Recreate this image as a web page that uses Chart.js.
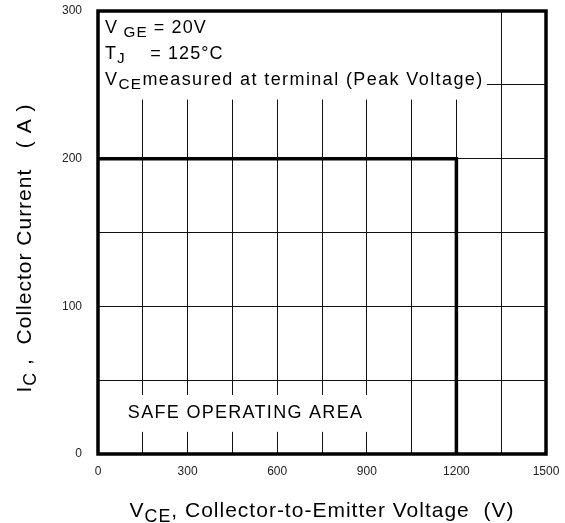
<!DOCTYPE html>
<html><head><meta charset="utf-8">
<script src="https://cdn.jsdelivr.net/npm/chart.js@4.4.1/dist/chart.umd.min.js"></script>
<style>html,body{margin:0;padding:0;background:#fff}#wrap{width:565px;height:523px;position:relative}</style>
</head><body><div id="wrap"><canvas id="c" width="565" height="523"></canvas></div>
<script>
// ---- data ----
const vceVolts = [0, 1200, 1200];
const icAmps = [200, 200, 0];
const xTickLabels = [0, 300, 600, 900, 1200, 1500];
const yTickLabels = [0, 100, 200, 300];
const xRange = [0, 1500];
const yRange = [0, 300];
const xGridStep = 150;
const yGridStep = 50;
const conditionLines = [
  [["V", 0], [" GE", 1], [" = 20V", 0]],
  [["T", 0], ["J", 1], ["    = 125°C", 0]],
  [["V", 0], ["CE", 1], ["measured at terminal (Peak Voltage)", 0]]
];
const areaLabel = "SAFE OPERATING AREA";
const xTitle = [["V", 0], ["CE", 1], [", Collector-to-Emitter Voltage  (V)", 0]];
const yTitle = [["I", 0], ["C", 1], [" ,  Collector Current   ( A )", 0]];

const FONT = '"Liberation Sans", Arial, sans-serif';
const lineSpacingPx = [1.1, 1.1, 1.4];

function richWidth(ctx, parts, size, sp) {
  let w = 0;
  for (const [t, sub] of parts) {
    ctx.font = (sub ? size * 0.85 : size) + 'px ' + FONT;
    ctx.letterSpacing = sp + 'px';
    w += ctx.measureText(t).width;
  }
  return w;
}
function drawRich(ctx, parts, x, y, size, sp) {
  ctx.textBaseline = 'alphabetic';
  ctx.textAlign = 'left';
  for (const [t, sub] of parts) {
    ctx.font = (sub ? size * 0.85 : size) + 'px ' + FONT;
    ctx.letterSpacing = sp + 'px';
    ctx.fillText(t, x, y + (sub ? size * 0.22 : 0));
    x += ctx.measureText(t).width;
  }
  ctx.letterSpacing = '0px';
}

const decor = {
  id: 'decor',
  beforeDatasetsDraw(chart) {
    const ctx = chart.ctx, xs = chart.scales.x, ys = chart.scales.y;
    ctx.save();
    ctx.fillStyle = '#fff';
    const bx0 = xs.getPixelForValue(0), bx1 = xs.getPixelForValue(1302);
    const by0 = ys.getPixelForValue(300), by1 = ys.getPixelForValue(240);
    ctx.fillRect(bx0, by0, bx1 - bx0, by1 - by0);
    const sx0 = xs.getPixelForValue(75), sx1 = xs.getPixelForValue(930);
    const sy0 = ys.getPixelForValue(40), sy1 = ys.getPixelForValue(15);
    ctx.fillRect(sx0, sy0, sx1 - sx0, sy1 - sy0);
    ctx.restore();
  },
  afterDatasetsDraw(chart) {
    const ctx = chart.ctx, a = chart.chartArea, xs = chart.scales.x, ys = chart.scales.y;
    ctx.save();
    ctx.strokeStyle = '#000';
    ctx.lineWidth = 3.5;
    ctx.strokeRect(a.left, a.top, a.right - a.left, a.bottom - a.top);
    ctx.fillStyle = '#000';
    const lx = a.left + 7;
    conditionLines.forEach((ln, i) => drawRich(ctx, ln, lx, a.top + 22 + i * 26, 18, lineSpacingPx[i]));
    ctx.font = '18px ' + FONT;
    ctx.letterSpacing = '1.3px';
    ctx.textAlign = 'left';
    ctx.textBaseline = 'alphabetic';
    ctx.fillText(areaLabel, xs.getPixelForValue(100), ys.getPixelForValue(24.5));
    ctx.letterSpacing = '0px';
    const xw = richWidth(ctx, xTitle, 21, 1.0);
    drawRich(ctx, xTitle, (a.left + a.right) / 2 - xw / 2, 517, 21, 1.0);
    ctx.save();
    ctx.translate(31, 248);
    ctx.rotate(-Math.PI / 2);
    const yw = richWidth(ctx, yTitle, 21, 1.0);
    drawRich(ctx, yTitle, -yw / 2, 0, 21, 1.0);
    ctx.restore();
    ctx.restore();
  }
};

function zeroPad(s) { s.paddingTop = 0; s.paddingBottom = 0; s.paddingLeft = 0; s.paddingRight = 0; }

new Chart(document.getElementById('c'), {
  type: 'scatter',
  data: {
    datasets: [{
      data: vceVolts.map((v, i) => ({ x: v, y: icAmps[i] })),
      showLine: true,
      borderColor: '#000',
      borderWidth: 3.5,
      pointRadius: 0,
      fill: false,
      tension: 0
    }]
  },
  options: {
    responsive: false,
    animation: false,
    devicePixelRatio: 1,
    layout: { padding: { top: 11, right: 19, left: 0, bottom: 0 } },
    plugins: { legend: { display: false }, tooltip: { enabled: false } },
    scales: {
      x: {
        type: 'linear', min: xRange[0], max: xRange[1],
        afterFit(s) { s.height = 69; zeroPad(s); },
        grid: { color: '#111', lineWidth: 1, drawTicks: false },
        border: { display: false },
        ticks: {
          stepSize: xGridStep, maxRotation: 0, autoSkip: false, padding: 10,
          color: '#222', font: { family: FONT, size: 12 },
          callback: v => xTickLabels.includes(v) ? String(v) : ''
        }
      },
      y: {
        type: 'linear', min: yRange[0], max: yRange[1],
        afterFit(s) { s.width = 98; zeroPad(s); },
        grid: { color: '#111', lineWidth: 1, drawTicks: false },
        border: { display: false },
        ticks: {
          stepSize: yGridStep, autoSkip: false, padding: 16,
          color: '#222', font: { family: FONT, size: 12 },
          callback: v => yTickLabels.includes(v) ? String(v) : ''
        }
      }
    }
  },
  plugins: [decor]
});
</script>
</body></html>
